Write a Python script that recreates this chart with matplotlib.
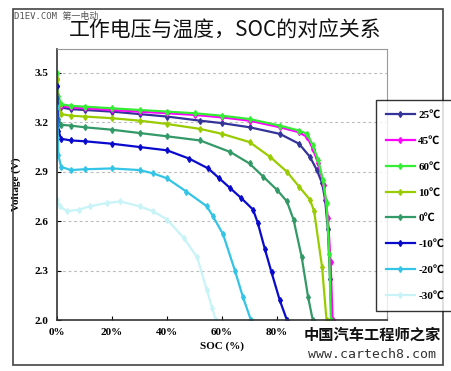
import matplotlib
matplotlib.use("Agg")
import matplotlib.pyplot as plt
from matplotlib.patches import Rectangle
from matplotlib.ticker import FuncFormatter

# series: label, colour, SOC (%), voltage (V)
labels = ["25℃", "45℃", "60℃", "10℃", "0℃", "-10℃", "-20℃", "-30℃"]
colors = ["#333399", "#ff00ff", "#33ee33", "#99cc00", "#339966", "#0a0acc", "#33c4e6", "#c8f4f8"]

soc_25 = [0, 0.5, 1.5, 5, 10, 20, 30, 40, 52, 60, 70, 81, 88, 92, 94.5, 96.4, 97.5, 98.5, 99.3, 99.8]
v_25 = [3.42, 3.32, 3.29, 3.28, 3.275, 3.265, 3.25, 3.235, 3.21, 3.195, 3.17, 3.13, 3.07, 2.99, 2.91, 2.83, 2.73, 2.55, 2.25, 2.0]

soc_45 = [0, 0.5, 1.5, 5, 10, 20, 30, 40, 50, 60, 70, 81, 88, 91, 93, 95, 97, 98.5, 99.5, 100.2]
v_45 = [3.46, 3.33, 3.30, 3.29, 3.285, 3.275, 3.265, 3.255, 3.245, 3.23, 3.21, 3.17, 3.14, 3.11, 3.04, 2.95, 2.82, 2.62, 2.35, 2.0]

soc_60 = [0, 0.5, 1.5, 5, 10, 20, 30, 40, 50, 60, 70, 81, 88, 91, 93, 95, 96.7, 98, 99, 99.6]
v_60 = [3.50, 3.36, 3.31, 3.30, 3.295, 3.285, 3.275, 3.265, 3.255, 3.24, 3.22, 3.18, 3.15, 3.13, 3.06, 2.97, 2.85, 2.71, 2.40, 2.0]

soc_10 = [0, 0.5, 1.5, 5, 10, 20, 30, 40, 52, 60, 70, 77.5, 83.6, 88, 92, 93.5, 96.4, 98]
v_10 = [3.46, 3.30, 3.25, 3.24, 3.235, 3.225, 3.21, 3.19, 3.16, 3.13, 3.08, 2.99, 2.90, 2.81, 2.73, 2.66, 2.32, 2.0]

soc_0 = [0, 0.5, 1.5, 5, 10, 20, 30, 40, 52, 63, 70, 75, 80, 83.6, 86, 89, 91.3, 93]
v_0 = [3.35, 3.22, 3.185, 3.18, 3.17, 3.155, 3.135, 3.115, 3.09, 3.02, 2.95, 2.87, 2.79, 2.72, 2.61, 2.38, 2.14, 2.0]

soc_m10 = [0, 0.5, 1.5, 5, 10, 20, 30, 40, 48, 55, 59, 63, 67, 71.3, 73, 75.6, 78, 81, 83.6]
v_m10 = [3.42, 3.15, 3.10, 3.09, 3.085, 3.07, 3.05, 3.03, 2.98, 2.92, 2.86, 2.80, 2.74, 2.67, 2.59, 2.43, 2.29, 2.12, 2.0]

soc_m20 = [0, 0.5, 1.5, 5, 10, 20, 30, 35, 40, 47, 54.5, 56.7, 60.4, 64.7, 67.6, 70.5]
v_m20 = [3.29, 3.00, 2.93, 2.91, 2.915, 2.92, 2.91, 2.89, 2.86, 2.78, 2.69, 2.63, 2.52, 2.30, 2.14, 2.0]

soc_m30 = [0, 1, 3.6, 8, 12, 18, 23, 30, 35, 40, 46, 51, 54.5, 56.5, 57.7]
v_m30 = [2.73, 2.69, 2.66, 2.67, 2.69, 2.71, 2.72, 2.69, 2.66, 2.61, 2.50, 2.38, 2.18, 2.07, 2.0]

socs = [soc_25, soc_45, soc_60, soc_10, soc_0, soc_m10, soc_m20, soc_m30]
volts = [v_25, v_45, v_60, v_10, v_0, v_m10, v_m20, v_m30]

y_ticks = [2.0, 2.3, 2.6, 2.9, 3.2, 3.5]
x_ticks = [0, 20, 40, 60, 80, 100, 120]
x_ticklabels = ["0%", "20%", "40%", "60%", "80%", "", ""]  # 100%/120% hidden by the watermark

serif = ["Liberation Serif", "Noto Sans CJK SC", "DejaVu Sans"]

fig = plt.figure(figsize=(4.51, 3.71), dpi=100)
fig.patches.append(Rectangle((13 / 451, 6 / 371), 430 / 451, 356 / 371,
                             transform=fig.transFigure, fill=False,
                             edgecolor="#444444", linewidth=1.2))

ax = fig.add_axes([57 / 451, 51 / 371, 330 / 451, 271 / 371])
for y in y_ticks[1:]:
    ax.axhline(y, color="#bbbbbb", lw=0.8, ls=(0, (2.5, 2.5)), zorder=0)

for lab, col, s, v in zip(labels, colors, socs, volts):
    ax.plot(s, v, color=col, lw=1.6, marker="d", ms=3, label=lab)

ax.set_xlim(0, 120)
ax.set_ylim(2.0, 3.645)
ax.set_xticks(x_ticks)
ax.set_xticklabels(x_ticklabels)
ax.set_yticks(y_ticks)
ax.yaxis.set_major_formatter(FuncFormatter(lambda y, p: "%.1f" % y))
ax.tick_params(direction="in", length=3, labelsize=8, pad=6)
for t in ax.get_xticklabels() + ax.get_yticklabels():
    t.set_fontfamily(serif)
    t.set_fontweight("bold")
for side in ["top", "right"]:
    ax.spines[side].set_color("#999999")
for side in ["left", "bottom"]:
    ax.spines[side].set_color("#333333")
    ax.spines[side].set_linewidth(1.2)

ax.set_xlabel("SOC (%)", fontfamily=serif, fontweight="bold", fontsize=8, labelpad=3)
ax.set_ylabel("Voltage (V)", fontfamily=serif, fontweight="bold", fontsize=8, labelpad=10)

leg = fig.legend(loc="upper left", bbox_to_anchor=(376 / 451, 271 / 371),
                 prop={"family": serif, "weight": "bold", "size": 8},
                 frameon=True, fancybox=False, edgecolor="black",
                 labelspacing=1.45, handlelength=2.6, handletextpad=0.3,
                 borderpad=0.9, borderaxespad=0)
leg.get_frame().set_linewidth(1.0)

fig.text(0.5, 0.916, "工作电压与温度，SOC的对应关系", ha="center", va="center",
         fontsize=15, family=["Noto Sans CJK SC", "DejaVu Sans"], color="#111111")
fig.text(14 / 451, 1 - 16 / 371, "D1EV.COM 第一电动", ha="left", va="center",
         fontsize=6.5, family=["DejaVu Sans Mono", "Noto Sans CJK SC"], color="#555555")

fig.text(372 / 451, 1 - 335 / 371, "中国汽车工程师之家", ha="center", va="center",
         fontsize=11, fontweight="bold", family=["Noto Sans CJK SC"], color="#111111")
fig.text(372 / 451, 1 - 354 / 371, "www.cartech8.com", ha="center", va="center",
         fontsize=9.5, family=["DejaVu Sans Mono"], color="#333333")

fig.savefig("out.png", dpi=100)
